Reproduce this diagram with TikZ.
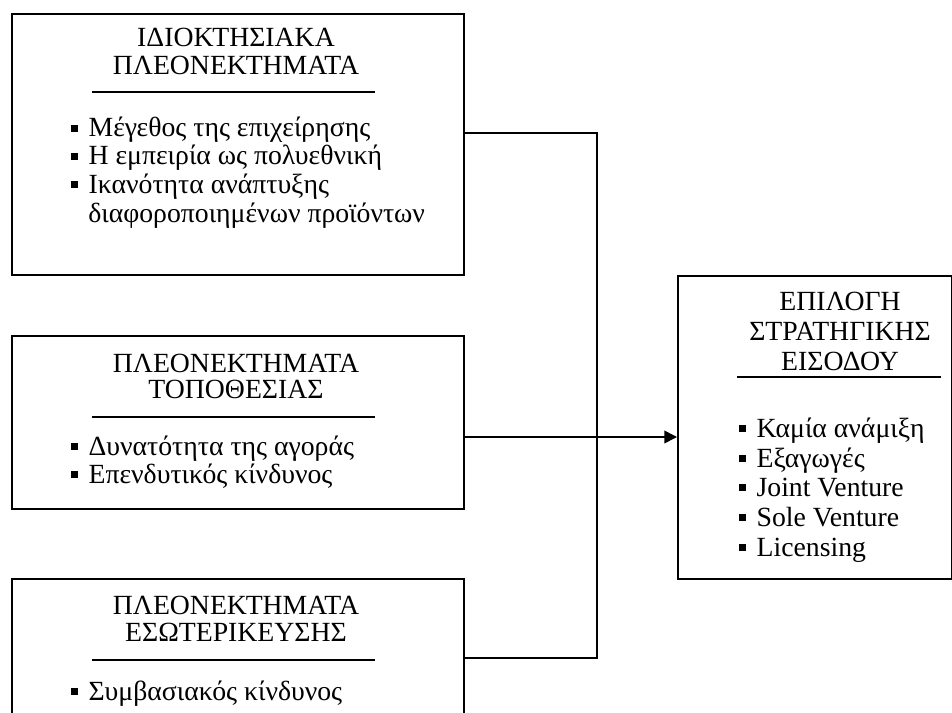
\documentclass[tikz,border=0pt]{standalone}
\usepackage{fontspec}
\setmainfont{Liberation Serif}
\usetikzlibrary{arrows.meta,positioning}

\tikzset{
  panel/.style={draw, line width=1.2pt, inner sep=0pt, anchor=north west},
  heading/.style={anchor=base, inner sep=0pt, font=\fontsize{20.8}{22}\selectfont},
  entry/.style={anchor=base west, inner sep=0pt, font=\fontsize{20.8}{22}\selectfont},
  link/.style={line width=1.2pt},
}
\newcommand{\sqbullet}{\makebox[13pt][l]{\rule[3.8pt]{5pt}{5pt}}}

\begin{document}
\begin{tikzpicture}[x=0.75pt, y=-0.75pt, >=Triangle]
  \useasboundingbox (0,0) rectangle (952,713);
  \fill[white] (0,0) rectangle (952,713);
  \clip (0,0) rectangle (952,713);

  % Πλαίσια
  \node[panel, minimum width=339pt, minimum height=195.75pt] (own) at (11,13) {};
  \node[panel, minimum width=339pt, minimum height=129.75pt] (loc) at (11,335) {};
  \node[panel, minimum width=339pt, minimum height=150pt] (int) at (11,578) {};
  \node[panel, minimum width=205.5pt, minimum height=227.25pt] (choice) at (677,275) {};

  % Ιδιοκτησιακά
  \node[heading] (own-h1) at (236,47) {ΙΔΙΟΚΤΗΣΙΑΚΑ};
  \node[heading] (own-h2) at (236,75) {ΠΛΕΟΝΕΚΤΗΜΑΤΑ};
  \draw[link] (92,92) -- (375,92);
  \node[entry] (own-i1) at (71,137) {\sqbullet Μέγεθος της επιχείρησης};
  \node[entry] (own-i2) at (71,165) {\sqbullet Η εμπειρία ως πολυεθνική};
  \node[entry] (own-i3) at (71,193) {\sqbullet Ικανότητα ανάπτυξης};
  \node[entry] (own-i4) at (88,222) {διαφοροποιημένων προϊόντων};

  % Τοποθεσίας
  \node[heading] (loc-h1) at (236,372) {ΠΛΕΟΝΕΚΤΗΜΑΤΑ};
  \node[heading] (loc-h2) at (236,398) {ΤΟΠΟΘΕΣΙΑΣ};
  \draw[link] (92,417) -- (375,417);
  \node[entry] (loc-i1) at (71,455) {\sqbullet Δυνατότητα της αγοράς};
  \node[entry] (loc-i2) at (71,483) {\sqbullet Επενδυτικός κίνδυνος};

  % Εσωτερίκευσης
  \node[heading] (int-h1) at (236,614) {ΠΛΕΟΝΕΚΤΗΜΑΤΑ};
  \node[heading] (int-h2) at (236,641) {ΕΣΩΤΕΡΙΚΕΥΣΗΣ};
  \draw[link] (92,660) -- (375,660);
  \node[entry] (int-i1) at (71,700) {\sqbullet Συμβασιακός κίνδυνος};

  % Επιλογή στρατηγικής
  \node[heading] (choice-h1) at (840,310) {ΕΠΙΛΟΓΗ};
  \node[heading] (choice-h2) at (840,340) {ΣΤΡΑΤΗΓΙΚΗΣ};
  \node[heading] (choice-h3) at (840,370) {ΕΙΣΟΔΟΥ};
  \draw[link] (737,377) -- (941,377);
  \node[entry] (choice-i1) at (739,437) {\sqbullet Καμία ανάμιξη};
  \node[entry] (choice-i2) at (739,467) {\sqbullet Εξαγωγές};
  \node[entry] (choice-i3) at (739,496) {\sqbullet Joint Venture};
  \node[entry] (choice-i4) at (739,526) {\sqbullet Sole Venture};
  \node[entry] (choice-i5) at (739,556) {\sqbullet Licensing};

  % Συνδέσεις
  \coordinate (bus-top) at (597,133);
  \coordinate (bus-mid) at (597,437);
  \coordinate (bus-bot) at (597,658);
  \draw[link] (own.east |- bus-top) -- (bus-top) -- (bus-bot) -- (int.east |- bus-bot);
  \draw[link, -{Triangle[length=9.5pt, width=9.5pt]}] (loc.east |- bus-mid) -- (choice.west |- bus-mid);
\end{tikzpicture}
\end{document}
